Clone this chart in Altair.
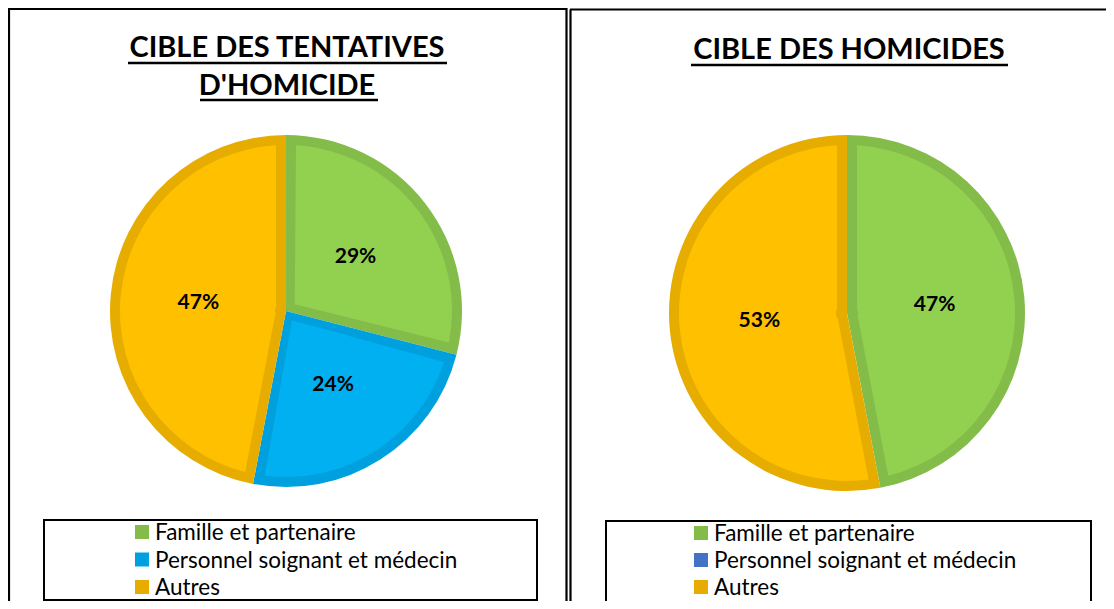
import math
import altair as alt
import pandas as pd

# ---------------- data ----------------
categories = ["Famille et partenaire", "Personnel soignant et médecin", "Autres"]
left_values = [29, 24, 47]
right_values = [47, 0, 53]
left_title = ["CIBLE DES TENTATIVES", "D'HOMICIDE"]
right_title = ["CIBLE DES HOMICIDES"]

# ---------------- styles ----------------
light_colors = ["#92D050", "#00B0F0", "#FFC000"]
dark_colors = ["#84BC4A", "#00A0DE", "#E6AD00"]
legend_left_colors = ["#84BC4A", "#00A0DE", "#E6AD00"]
legend_right_colors = ["#84BC4A", "#4472C4", "#E6AD00"]
FONT = "Lato"
W, H = 1098, 593
RING = 10
INNER = 11


def pie_df(values):
    return pd.DataFrame({
        "cat": categories,
        "v": values,
        "i": list(range(len(categories))),
        "label": [f"{v}%" for v in values],
    })


one = pd.DataFrame({"a": [0]})


def panel(values, cx, cy, R, legend_colors, title_lines, title_cx, title_ys,
          underline, legend_box, legend_x, text_rows, swatch_rows, borders):
    df = pie_df(values)
    base = alt.Chart(df)
    theta = alt.Theta("v:Q", stack=True)
    order = alt.Order("i:Q")
    dark = base.mark_arc(outerRadius=R).encode(
        theta=theta, order=order,
        x=alt.value(cx), y=alt.value(cy),
        color=alt.Color("cat:N", scale=alt.Scale(domain=categories, range=dark_colors), legend=None),
    )
    r1 = R - RING
    rp = math.sqrt(INNER ** 2 + r1 ** 2)
    pad = 2 * math.asin(RING / rp)
    light = base.mark_arc(outerRadius=r1, innerRadius=INNER, padAngle=pad).encode(
        theta=theta, order=order,
        x=alt.value(cx), y=alt.value(cy),
        color=alt.Color("cat:N", scale=alt.Scale(domain=categories, range=light_colors), legend=None),
    )
    labels = base.transform_filter("datum.v > 0").mark_text(
        radius=88, font=FONT, fontSize=21, fontWeight="bold", color="black"
    ).encode(
        theta=theta, order=order, text="label:N",
        x=alt.value(cx), y=alt.value(cy),
    )
    layers = [dark, light, labels]
    # title
    for line, ty in zip(title_lines, title_ys):
        layers.append(alt.Chart(one).mark_text(
            text=line, font=FONT, fontSize=29, fontWeight="bold", color="black",
            align="center", baseline="middle"
        ).encode(x=alt.value(title_cx), y=alt.value(ty)))
    for (ux1, ux2, uy) in underline:
        layers.append(alt.Chart(one).mark_rule(color="black", strokeWidth=2.5).encode(
            x=alt.value(ux1), x2=alt.value(ux2), y=alt.value(uy)))
    # legend box
    bx1, bx2, by1, by2 = legend_box
    layers.append(alt.Chart(one).mark_rect(fill="white", stroke="black", strokeWidth=2).encode(
        x=alt.value(bx1), x2=alt.value(bx2), y=alt.value(by1), y2=alt.value(by2)))
    ldf = pd.DataFrame({"cat": categories})
    sscale = alt.Scale(type="point", domain=categories, range=swatch_rows, padding=0)
    tscale = alt.Scale(type="point", domain=categories, range=text_rows, padding=0)
    layers.append(alt.Chart(ldf).mark_square(size=196, opacity=1, shape="square").encode(
        x=alt.value(legend_x), y=alt.Y("cat:N", scale=sscale, axis=None),
        color=alt.Color("cat:N", scale=alt.Scale(domain=categories, range=legend_colors), legend=None),
    ))
    layers.append(alt.Chart(ldf).mark_text(
        font=FONT, fontSize=22.5, color="black", align="left", baseline="alphabetic"
    ).encode(
        x=alt.value(legend_x + 13), y=alt.Y("cat:N", scale=tscale, axis=None), text="cat:N"))
    # panel borders
    for (x1, x2, y1, y2) in borders:
        if x1 == x2:
            layers.append(alt.Chart(one).mark_rule(color="black", strokeWidth=2.2).encode(
                x=alt.value(x1), y=alt.value(y1), y2=alt.value(y2)))
        else:
            layers.append(alt.Chart(one).mark_rule(color="black", strokeWidth=2.2).encode(
                x=alt.value(x1), x2=alt.value(x2), y=alt.value(y1)))
    return layers


left_layers = panel(
    left_values, 278, 303, 176, legend_left_colors, left_title, 279, [40, 78],
    [(120, 439, 55), (192, 370, 92)],
    (36, 529, 512, 592), 134, [532, 587], [524, 579],
    [(1, 1, 0, H), (0, 559, 1, 1), (558.5, 558.5, 0, H)],
)

OFF = 562
right_layers = panel(
    right_values, OFF + 277, 305, 178, legend_right_colors, right_title, OFF + 279, [42],
    [(OFF + 121, OFF + 438, 57)],
    (OFF + 36, OFF + 521, 513, 610), OFF + 131, [533, 587], [525, 579],
    [(OFF + 0.5, OFF + 0.5, 1.5, H), (OFF, W + 5, 1.5, 1.5)],
)

chart = alt.layer(*left_layers, *right_layers).resolve_scale(
    color="independent", y="independent", theta="independent"
).properties(
    width=W, height=H, padding=0,
    autosize=alt.AutoSizeParams(type="none"),
    background="white",
).configure_view(stroke=None)

chart.save("out.html", embed_options={"renderer": "svg", "actions": False})
